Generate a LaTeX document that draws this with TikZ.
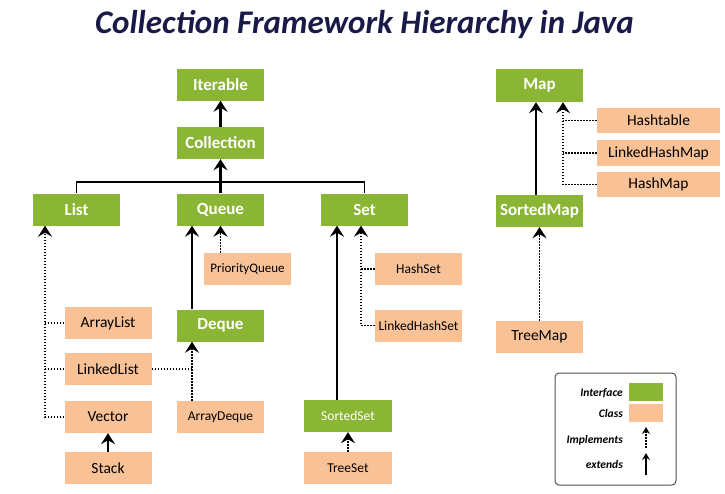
\documentclass[tikz,border=0pt]{standalone}
\usepackage{fontspec}
\setmainfont{Carlito}
\usetikzlibrary{arrows.meta}
\definecolor{igreen}{RGB}{138,181,53}
\definecolor{cpeach}{RGB}{248,193,150}
\definecolor{titleblue}{RGB}{26,26,72}
\definecolor{legborder}{RGB}{80,80,80}
\newcommand{\fs}[1]{\fontsize{#1}{#1}\selectfont}
\tikzset{
  iface/.style={fill=igreen, text=white, font=\bfseries\fs{17}, minimum width=87pt, minimum height=32pt, inner sep=0pt},
  cls/.style={fill=cpeach, text=black, font=\fs{15.5}, minimum width=87pt, minimum height=32pt, inner sep=0pt},
  small/.style={font=\fs{13.5}},
  arr/.style={-{Stealth[length=11pt,width=14pt,inset=4pt]}},
  ext/.style={arr, line width=2.2pt, black},
  impl/.style={arr, line width=1.8pt, black, dash pattern=on 1.7pt off 1.3pt},
  dots/.style={line width=1.8pt, black, dash pattern=on 1.7pt off 1.3pt},
  plain/.style={line width=1.8pt, black},
  leglab/.style={font=\bfseries\itshape\fs{11.5}, anchor=east, inner sep=0pt}
}
\begin{document}
\begin{tikzpicture}[x=1pt,y=-1pt]
\useasboundingbox (0,0) rectangle (725,493);
\fill[white] (0,0) rectangle (725,493);
% title
\node[font=\bfseries\itshape\fs{33}, text=titleblue] (title) at (364.5,25) {Collection Framework Hierarchy in Java};
% interfaces
\node[iface] (iter) at (220.5,84.5) {Iterable};
\node[iface] (coll) at (220.5,143) {Collection};
\node[iface] (list) at (76.5,209.5) {List};
\node[iface] (queue) at (220.5,209.5) {Queue};
\node[iface] (set) at (364.5,209.5) {Set};
\node[iface] (deque) at (220.5,325.5) {Deque};
\node[iface, font=\fs{13.5}, minimum width=88pt] (sset) at (348,416) {SortedSet};
\node[iface, minimum height=33pt] (map) at (539.5,85.5) {Map};
\node[iface] (smap) at (539.5,211) {SortedMap};
% classes
\node[cls] (alist) at (108,323) {ArrayList};
\node[cls] (llist) at (108,369) {LinkedList};
\node[cls] (vector) at (108,417) {Vector};
\node[cls] (stack) at (108,468) {Stack};
\node[cls, font=\fs{13}] (pq) at (247.5,269) {PriorityQueue};
\node[cls, small] (adq) at (220.5,417) {ArrayDeque};
\node[cls, small] (hset) at (418.5,269) {HashSet};
\node[cls, small] (lhset) at (418.5,325.5) {LinkedHashSet};
\node[cls, small, minimum width=88pt] (tset) at (348,468) {TreeSet};
\node[cls, minimum width=123pt, minimum height=25pt] (htab) at (658.5,120.5) {Hashtable};
\node[cls, minimum width=123pt, minimum height=26pt] (lhmap) at (658.5,153) {LinkedHashMap};
\node[cls, minimum width=123pt, minimum height=25pt] (hmap) at (658.5,184.5) {HashMap};
\node[cls] (tmap) at (539.5,337) {TreeMap};
% Collection hierarchy
\draw[ext] (coll.north) -- (iter.south);
\draw[ext] (queue.north) -- (coll.south);
\draw[plain] (list.north) -- ++(0,-11) -| (set.north);
% List
\coordinate (lx) at ([xshift=-31.5pt]list.south);
\draw[impl] (vector.west) -| (lx);
\draw[dots] (alist.west) -- (alist.west -| lx);
\draw[dots] (llist.west) -- (llist.west -| lx);
\draw[ext] (stack.north) -- (vector.south);
% Queue
\coordinate (qx) at ([xshift=-28.5pt]queue.south);
\draw[ext] (deque.north -| qx) -- (qx);
\draw[impl] (pq.north -| queue.south) -- (queue.south);
\coordinate (dx) at ([xshift=-28.5pt]deque.south);
\draw[impl] (adq.north -| dx) -- (dx);
\draw[dots] (llist.east) -- (llist.east -| dx);
% Set
\coordinate (sx) at ([xshift=-27.5pt]set.south);
\draw[ext] (sset.north -| sx) -- (sx);
\coordinate (sd) at ([xshift=-3.5pt]set.south);
\draw[impl] (lhset.west) -| (sd);
\draw[dots] (hset.west) -- (hset.west -| sd);
\draw[impl] (tset.north) -- (sset.south);
% Map
\coordinate (mx) at ([xshift=-3.5pt]map.south);
\draw[ext] (smap.north -| mx) -- (mx);
\coordinate (md) at ([xshift=23.5pt]map.south);
\draw[impl] (hmap.west) -| (md);
\draw[dots] (htab.west) -- (htab.west -| md);
\draw[dots] (lhmap.west) -- (lhmap.west -| md);
\draw[impl] (tmap.north) -- (smap.south);
% legend
\draw[legborder, line width=1pt, rounded corners=4pt] (555,373) rectangle (676,485);
\node[fill=igreen, minimum width=34pt, minimum height=18pt, inner sep=0pt] (lgi) at (646,392) {};
\node[fill=cpeach, minimum width=34pt, minimum height=18pt, inner sep=0pt] (lgc) at (646,413) {};
\node[leglab] (li) at (623,393) {Interface};
\node[leglab] (lc) at (623,413) {Class};
\node[leglab] (lim) at (623,440) {Implements};
\node[leglab] (lex) at (623,464) {extends};
\coordinate (ima) at (646,448);
\coordinate (imb) at (646,427);
\coordinate (exa) at (646,475);
\coordinate (exb) at (646,453);
\draw[impl, line width=1.3pt, -{Stealth[length=7pt,width=8pt,inset=2.5pt]}] (ima) -- (imb);
\draw[ext, line width=1.5pt, -{Stealth[length=7pt,width=8pt,inset=2.5pt]}] (exa) -- (exb);
\end{tikzpicture}
\end{document}
